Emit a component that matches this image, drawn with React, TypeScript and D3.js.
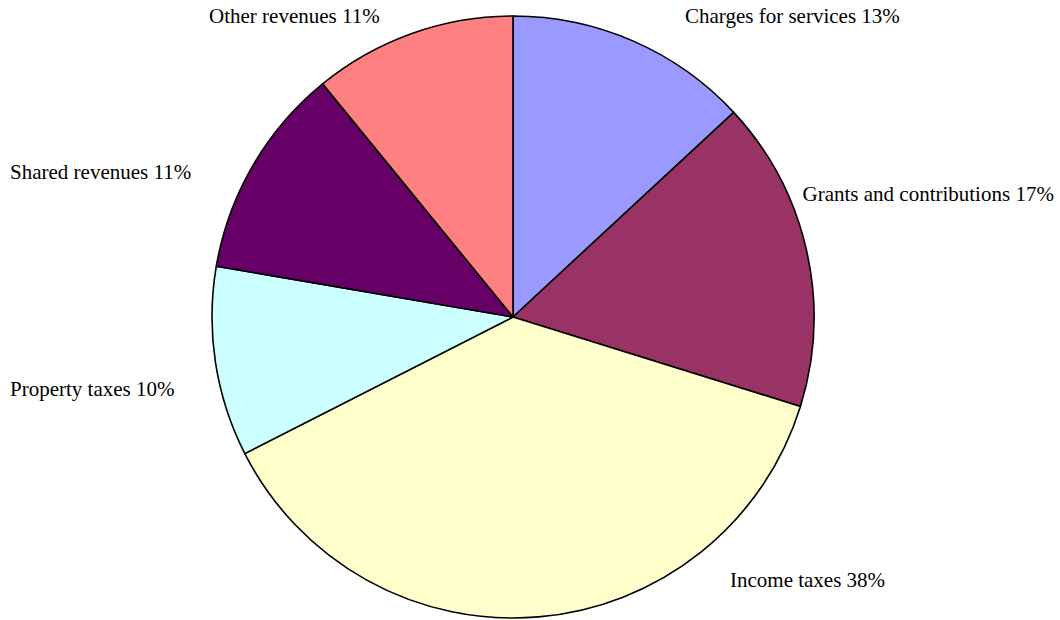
import React from "react";
import * as d3 from "d3";

const categories = [
  "Charges for services",
  "Grants and contributions",
  "Income taxes",
  "Property taxes",
  "Shared revenues",
  "Other revenues",
];
const shares = [13.1, 16.7, 37.7, 10.2, 11.4, 10.9];
const colors = ["#9999FF", "#993366", "#FFFFCC", "#CCFFFF", "#660066", "#FF8080"];

// label layout (x, y baseline)
const labelPos: [number, number][] = [
  [685, 23],
  [802.5, 201],
  [730, 587],
  [10, 396],
  [10, 179],
  [209, 23],
];

const W = 1060;
const H = 620;
const CX = 513;
const CY = 317;
const R = 301;

export default function App() {
  const data = categories.map((c, i) => ({ c, v: shares[i], i }));
  const pie = d3
    .pie<{ c: string; v: number; i: number }>()
    .sort(null)
    .value((d) => d.v)
    .startAngle(0)
    .endAngle(2 * Math.PI);
  const arcs = pie(data);
  const arc = d3
    .arc<d3.PieArcDatum<{ c: string; v: number; i: number }>>()
    .innerRadius(0)
    .outerRadius(R);
  const total = d3.sum(shares);
  return (
    <svg
      width={W}
      height={H}
      style={{ position: "absolute", left: 0, top: 0, background: "#fff" }}
    >
      <g transform={`translate(${CX},${CY})`}>
        {arcs.map((a, i) => (
          <path
            key={i}
            d={arc(a) || ""}
            fill={colors[i]}
            stroke="#000"
            strokeWidth={1.6}
            strokeLinejoin="round"
          />
        ))}
      </g>
      {categories.map((c, i) => (
        <text
          key={c}
          x={labelPos[i][0]}
          y={labelPos[i][1]}
          fontFamily="'Liberation Serif', 'Times New Roman', serif"
          fontSize={21}
          fill="#000"
        >
          {`${c} ${Math.round((shares[i] / total) * 100)}%`}
        </text>
      ))}
    </svg>
  );
}
